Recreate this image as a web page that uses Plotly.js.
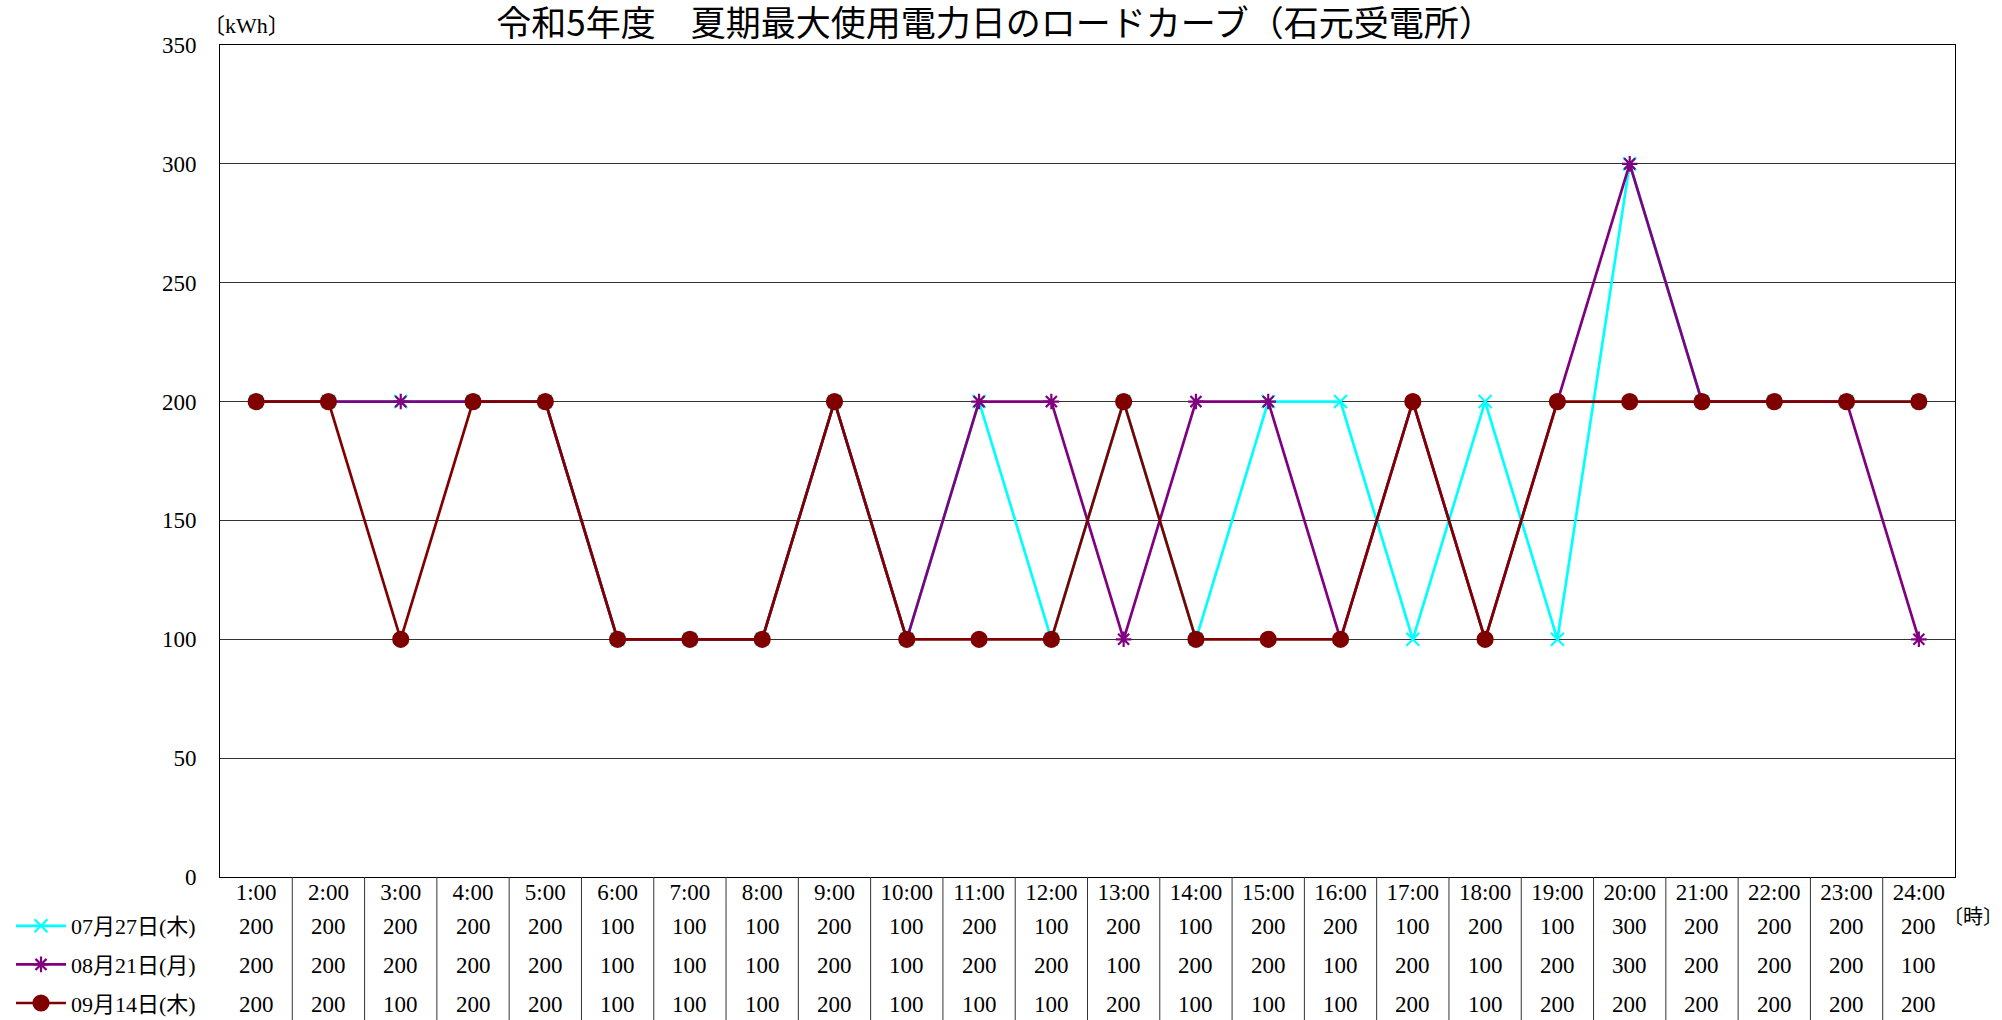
<!DOCTYPE html>
<html>
<head>
<meta charset="utf-8">
<script src="https://cdn.plot.ly/plotly-3.0.1.min.js"></script>
<style>html,body{margin:0;padding:0;background:#fff;}#chart{width:2002px;height:1020px;}</style>
</head>
<body>
<div id="chart"></div>
<script>
const hours = ['1:00','2:00','3:00','4:00','5:00','6:00','7:00','8:00','9:00','10:00','11:00','12:00',
  '13:00','14:00','15:00','16:00','17:00','18:00','19:00','20:00','21:00','22:00','23:00','24:00'];
const seriesNames = ['07月27日(木)', '08月21日(月)', '09月14日(木)'];
const s0727 = [200,200,200,200,200,100,100,100,200,100,200,100,200,100,200,200,100,200,100,300,200,200,200,200];
const s0821 = [200,200,200,200,200,100,100,100,200,100,200,200,100,200,200,100,200,100,200,300,200,200,200,100];
const s0914 = [200,200,100,200,200,100,100,100,200,100,100,100,200,100,100,100,200,100,200,200,200,200,200,200];
const yTicks = [0,50,100,150,200,250,300,350];
const titleText = '令和5年度　夏期最大使用電力日のロードカーブ（石元受電所）';
const yUnit = '〔kWh〕';
const xUnit = '〔時〕';

const allSeries = [s0727, s0821, s0914];
const colors = ['#00FFFF', '#800080', '#800000'];
const symbols = ['x-thin-open', 'asterisk-open', 'circle'];
const msizes = [13, 13, 15];

const W = 2002, H = 1020;
const M = {l: 220, r: 47, t: 45, b: 143, autoexpand: false};
const PH = H - M.t - M.b;
const PW = W - M.l - M.r;
const px2paper = p => -p / PH;   // pixels below plot bottom -> paper y

const serif = 'Liberation Serif, Noto Sans CJK JP, serif';

const traces = allSeries.map((vals, k) => ({
  type: 'scatter', mode: 'lines+markers',
  x: hours, y: vals, name: seriesNames[k],
  legendgroup: 'g' + k,
  line: {color: colors[k], width: 2.7},
  marker: {symbol: symbols[k], size: msizes[k], color: colors[k],
           line: {color: colors[k], width: 2.2}},
  cliponaxis: false
}));

const annotations = [];
const rowOffsets = [49, 88, 128];
allSeries.forEach((vals, k) => {
  vals.forEach((v, i) => {
    annotations.push({
      x: hours[i], xref: 'x', y: px2paper(rowOffsets[k]), yref: 'paper',
      text: String(v), showarrow: false, xanchor: 'center', yanchor: 'middle',
      font: {family: serif, size: 23, color: '#000'}
    });
  });
});
annotations.push({
  x: 0, xref: 'paper', xanchor: 'left', xshift: -19,
  y: 1 + 19 / PH, yref: 'paper', yanchor: 'middle',
  text: yUnit, showarrow: false, font: {family: serif, size: 22, color: '#000'}
});
annotations.push({
  x: 1, xref: 'paper', xanchor: 'left', xshift: -13, borderpad: 0,
  y: px2paper(40), yref: 'paper', yanchor: 'middle',
  text: xUnit, showarrow: false, font: {family: serif, size: 20, color: '#000'}
});

const shapes = [];
for (let i = 0; i < hours.length - 1; i++) {
  shapes.push({
    type: 'line', xref: 'x', yref: 'paper',
    x0: i + 0.5, x1: i + 0.5, y0: 0, y1: px2paper(H - M.t - PH),
    line: {color: '#333', width: 1}
  });
}

const layout = {
  width: W, height: H,
  margin: M,
  paper_bgcolor: '#fff', plot_bgcolor: '#fff',
  title: {
    text: titleText, xref: 'container', x: 0.497, xanchor: 'center',
    yref: 'container', y: 1 - 24 / H, yanchor: 'middle',
    font: {family: 'Noto Sans CJK JP, sans-serif', size: 35, color: '#000'}
  },
  xaxis: {
    type: 'category', range: [-0.5, hours.length - 0.5],
    tickvals: hours, ticktext: hours,
    showgrid: false, zeroline: false,
    showline: true, linecolor: '#000', linewidth: 1, mirror: true,
    ticks: '', ticklabelstandoff: -6,
    tickfont: {family: serif, size: 23, color: '#000'},
    fixedrange: true
  },
  yaxis: {
    range: [0, 350], tickvals: yTicks, ticktext: yTicks.map(String),
    showgrid: true, gridcolor: '#333', gridwidth: 1,
    zeroline: false,
    showline: true, linecolor: '#000', linewidth: 1, mirror: true,
    ticks: '', ticklabelstandoff: 18,
    tickfont: {family: serif, size: 23, color: '#000'},
    fixedrange: true
  },
  showlegend: true,
  legend: {
    x: (11 - M.l) / PW, xanchor: 'left', xref: 'paper',
    y: px2paper(28), yanchor: 'top', yref: 'paper',
    traceorder: 'grouped', tracegroupgap: 7,
    bgcolor: 'rgba(0,0,0,0)', borderwidth: 0,
    font: {family: serif, size: 22, color: '#000'},
    itemwidth: 50
  },
  annotations: annotations,
  shapes: shapes
};

Plotly.newPlot('chart', traces, layout, {displayModeBar: false, staticPlot: true});
</script>
</body>
</html>
